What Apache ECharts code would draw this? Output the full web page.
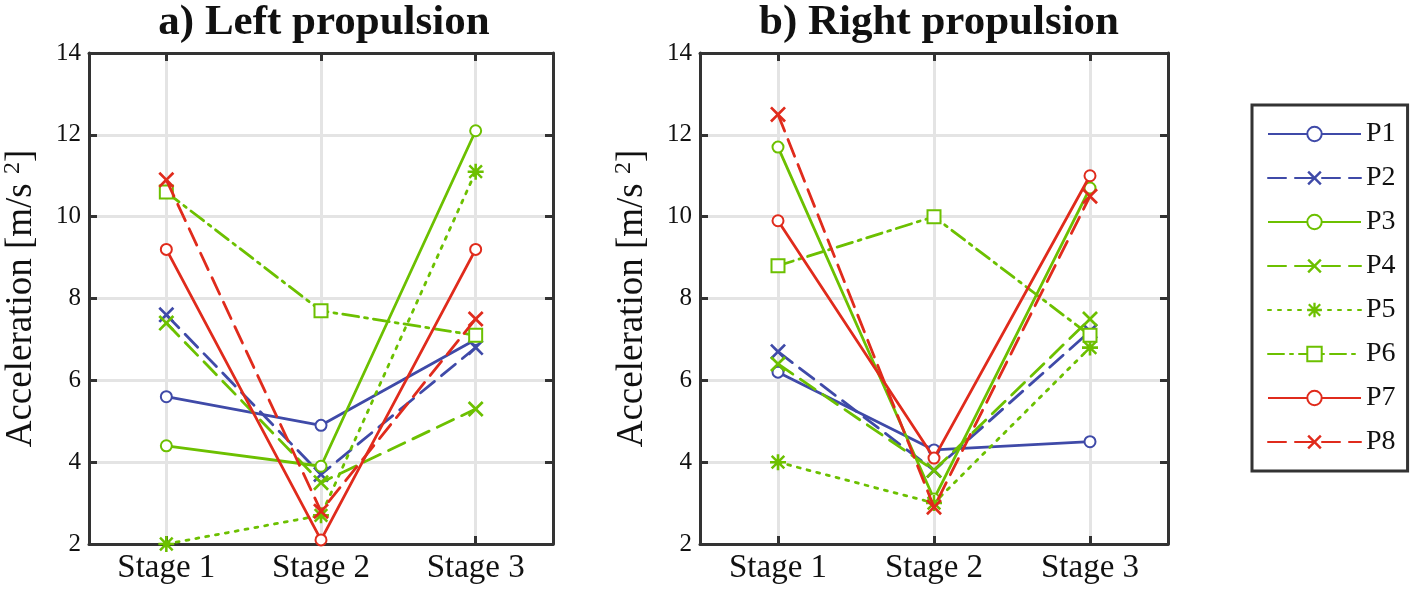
<!DOCTYPE html>
<html>
<head>
<meta charset="utf-8">
<script src="https://cdn.jsdelivr.net/npm/echarts@6/dist/echarts.min.js"></script>
<style>
  html, body { margin: 0; padding: 0; background: #fff; }
  #chart { width: 1418px; height: 590px; }
</style>
</head>
<body>
<div id="chart"></div>
<script>
// ---- data ----
const stages = ['Stage 1', 'Stage 2', 'Stage 3'];
const yTicks = [2, 4, 6, 8, 10, 12, 14];
const seriesNames = ['P1', 'P2', 'P3', 'P4', 'P5', 'P6', 'P7', 'P8'];
const panelTitles = ['a) Left propulsion', 'b) Right propulsion'];

const leftP1 = [5.6, 4.9, 7.0];
const leftP2 = [7.6, 3.7, 6.8];
const leftP3 = [4.4, 3.9, 12.1];
const leftP4 = [7.4, 3.5, 5.3];
const leftP5 = [2.0, 2.7, 11.1];
const leftP6 = [10.6, 7.7, 7.1];
const leftP7 = [9.2, 2.1, 9.2];
const leftP8 = [10.9, 2.8, 7.5];

const rightP1 = [6.2, 4.3, 4.5];
const rightP2 = [6.7, 3.8, 7.2];
const rightP3 = [11.7, 3.1, 10.7];
const rightP4 = [6.4, 3.8, 7.5];
const rightP5 = [4.0, 3.0, 6.8];
const rightP6 = [8.8, 10.0, 7.1];
const rightP7 = [9.9, 4.1, 11.0];
const rightP8 = [12.5, 2.9, 10.5];

const leftData = [leftP1, leftP2, leftP3, leftP4, leftP5, leftP6, leftP7, leftP8];
const rightData = [rightP1, rightP2, rightP3, rightP4, rightP5, rightP6, rightP7, rightP8];

// ---- styles ----
const BLUE = '#3F4AA8', GREEN = '#6CC000', RED = '#E02B1C';
const FONT = 'Liberation Serif';
const X_PATH = 'path://M1.2,0L5,3.8L8.8,0L10,1.2L6.2,5L10,8.8L8.8,10L5,6.2L1.2,10L0,8.8L3.8,5L0,1.2Z';
const STAR_PATH = 'path://M4.2,0H5.8V10H4.2Z M0,4.2H10V5.8H0Z M0.5,1.6L1.6,0.5L9.5,8.4L8.4,9.5Z M8.4,0.5L9.5,1.6L1.6,9.5L0.5,8.4Z';
const styles = [
  { color: BLUE,  type: 'solid',       symbol: 'emptyCircle', size: 11, bw: 2.4 },
  { color: BLUE,  type: [18, 9],       symbol: X_PATH,        size: 16, bw: 0 },
  { color: GREEN, type: 'solid',       symbol: 'emptyCircle', size: 11, bw: 2.4 },
  { color: GREEN, type: [18, 9],       symbol: X_PATH,        size: 16, bw: 0 },
  { color: GREEN, type: [3, 7],        symbol: STAR_PATH,     size: 16, bw: 0 },
  { color: GREEN, type: [16, 6, 3, 6], symbol: 'emptyRect',   size: 13, bw: 2.4 },
  { color: RED,   type: 'solid',       symbol: 'emptyCircle', size: 11, bw: 2.4 },
  { color: RED,   type: [18, 9],       symbol: X_PATH,        size: 16, bw: 0 }
];

const grids = [
  { left: 85, top: 53, width: 468, height: 491 },
  { left: 700, top: 53, width: 468, height: 491 }
];

const xAxes = [], yAxes = [], series = [], titles = [];
grids.forEach((g, gi) => {
  xAxes.push({
    type: 'category', gridIndex: gi, data: stages, boundaryGap: true,
    axisLine: { show: true, onZero: false, lineStyle: { color: '#333', width: 3 } },
    axisTick: { show: true, inside: true, alignWithLabel: true, length: 8, lineStyle: { color: '#333', width: 3 } },
    axisLabel: { color: '#111', fontFamily: FONT, fontSize: 33, margin: 8 },
    splitLine: { show: true, alignWithLabel: true, lineStyle: { color: '#e4e4e4', width: 3 } }
  });
  xAxes.push({
    type: 'category', gridIndex: gi, data: stages, position: 'top', boundaryGap: true,
    axisLine: { show: true, onZero: false, lineStyle: { color: '#333', width: 3 } },
    axisTick: { show: true, inside: true, alignWithLabel: true, length: 8, lineStyle: { color: '#333', width: 3 } },
    axisLabel: { show: false }, splitLine: { show: false }
  });
  yAxes.push({
    type: 'value', gridIndex: gi, min: 2, max: 14, interval: 2,
    name: 'Acceleration [m/s {sup|2}]', nameLocation: 'middle', nameGap: 48,
    nameTextStyle: {
      color: '#111', fontFamily: FONT, fontSize: 37,
      rich: { sup: { fontFamily: FONT, fontSize: 24, color: '#111', padding: [0, 0, 16, 0] } }
    },
    axisLine: { show: true, lineStyle: { color: '#333', width: 3 } },
    axisTick: { show: true, inside: true, length: 8, lineStyle: { color: '#333', width: 3 } },
    axisLabel: { color: '#111', fontFamily: FONT, fontSize: 25, margin: 8,
      formatter: v => (yTicks.indexOf(v) >= 0 ? String(v) : '') },
    splitLine: { show: true, lineStyle: { color: '#e4e4e4', width: 3 } }
  });
  yAxes.push({
    type: 'value', gridIndex: gi, min: 2, max: 14, interval: 2, position: 'right',
    axisLine: { show: true, lineStyle: { color: '#333', width: 3 } },
    axisTick: { show: true, inside: true, length: 8, lineStyle: { color: '#333', width: 3 } },
    axisLabel: { show: false }, splitLine: { show: false }
  });
  const dataSet = gi === 0 ? leftData : rightData;
  dataSet.forEach((vals, si) => {
    const st = styles[si];
    series.push({
      type: 'line', name: seriesNames[si],
      xAxisIndex: gi * 2, yAxisIndex: gi * 2,
      data: vals,
      symbol: st.symbol, symbolSize: st.size, showSymbol: true,
      lineStyle: { color: st.color, width: 2.8, type: st.type, cap: st.type === 'solid' ? 'butt' : 'round' },
      itemStyle: { color: st.color, borderColor: st.color, borderWidth: st.bw },
      emphasis: { disabled: true },
      z: 3 + si
    });
  });
  titles.push({
    text: panelTitles[gi], left: g.left + g.width / 2, top: -4, textAlign: 'center',
    textStyle: { fontFamily: FONT, fontWeight: 'bold', fontSize: 43, color: '#111' }
  });
});

const chart = echarts.init(document.getElementById('chart'), null, { renderer: 'canvas' });
chart.setOption({
  animation: false,
  backgroundColor: '#fff',
  textStyle: { fontFamily: FONT },
  title: titles,
  grid: grids,
  xAxis: xAxes,
  yAxis: yAxes,
  legend: {
    orient: 'vertical', left: 1252, top: 105,
    data: seriesNames,
    itemWidth: 93, itemHeight: 18, itemGap: 16,
    padding: [15, 12, 15, 15],
    borderColor: '#333', borderWidth: 3, backgroundColor: '#fff',
    textStyle: { fontFamily: FONT, fontSize: 28, color: '#111' },
    selectedMode: false
  },
  series: series
});
</script>
</body>
</html>
